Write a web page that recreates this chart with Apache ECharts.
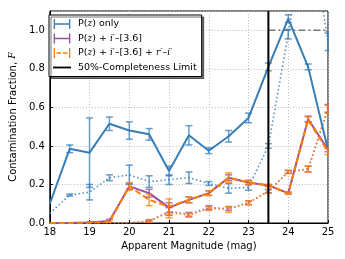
<!DOCTYPE html>
<html><head><meta charset="utf-8">
<script src="https://cdn.jsdelivr.net/npm/echarts@6/dist/echarts.min.js"></script>
<style>html,body{margin:0;padding:0;background:#fff}#c{width:345px;height:259px}</style>
</head><body><div id="c"></div>
<script>
const mags = [18, 18.5, 19, 19.5, 20, 20.5, 21, 21.5, 22, 22.5, 23, 23.5, 24, 24.5, 25];
const pzOnly     = [0.10, 0.385, 0.365, 0.515, 0.48, 0.46, 0.27, 0.455, 0.375, 0.45, 0.545, 0.81, 1.06, 0.81, 0.38];
const pzOnlyErr  = [0, 0.02, 0.18, 0.035, 0.045, 0.03, 0.025, 0.05, 0.015, 0.03, 0.025, 0.02, 0.02, 0.015, 0];
const pzOnlyDot  = [0.05, 0.145, 0.16, 0.235, 0.25, 0.215, 0.225, 0.235, 0.205, 0.18, 0.185, 0.40, 0.98, 1.6, 0.94];
const pzOnlyDotErr = [0, 0.005, 0.04, 0.015, 0.05, 0.03, 0.025, 0.03, 0.01, 0.025, 0.015, 0.012, 0.025, 0, 0.045];
const pzIrac     = [0, 0, 0.003, 0.01, 0.19, 0.155, 0.08, 0.12, 0.155, 0.235, 0.21, 0.195, 0.155, 0.54, 0.38];
const pzIracErr  = [0, 0, 0.003, 0.01, 0.015, 0.02, 0.025, 0.015, 0.012, 0.015, 0.01, 0.005, 0.005, 0.015, 0.01];
const pzIracDot  = [0, 0, 0, 0, 0, 0.01, 0.06, 0.045, 0.08, 0.075, 0.105, 0.165, 0.265, 0.28, 0.595];
const pzIracDotErr = [0, 0, 0, 0, 0, 0.005, 0.02, 0.01, 0.01, 0.01, 0.01, 0.008, 0.008, 0.015, 0.02];
const pzAll      = [0, 0, 0.002, 0.005, 0.19, 0.12, 0.085, 0.12, 0.155, 0.235, 0.21, 0.195, 0.155, 0.535, 0.37];
const pzAllErr   = [0, 0, 0.002, 0.005, 0.02, 0.03, 0.04, 0.015, 0.012, 0.025, 0.012, 0.005, 0.005, 0.015, 0.015];
const pzAllDot   = [0, 0, 0, 0, 0, 0.01, 0.055, 0.04, 0.075, 0.07, 0.105, 0.165, 0.265, 0.28, 0.59];
const pzAllDotErr = [0, 0, 0, 0, 0, 0.008, 0.028, 0.01, 0.01, 0.015, 0.01, 0.01, 0.008, 0.015, 0.02];
const limitMag = 23.5;
const limitY = [0, 1.1];
const unityY = 1.0;
const unityX = [23.5, 25];
const xTicks = [18, 19, 20, 21, 22, 23, 24, 25];
const yTicks = [0.0, 0.2, 0.4, 0.6, 0.8, 1.0];

const BLUE = '#377eb8', PURPLE = '#984ea3', ORANGE = '#ff7f00';
const names = ['P(z) only', 'P(z) + i\u2032\u2013[3.6]', 'P(z) + i\u2032\u2013[3.6] + r\u2032\u2013i\u2032', '50%-Completeness Limit'];

function pts(v) { return mags.map((m, i) => [m, v[i]]); }
function errs(v, e) { return mags.map((m, i) => [m, v[i] - e[i], v[i] + e[i]]).filter(d => d[2] - d[1] > 0); }

function errSeries(v, e, color, z) {
  return {
    type: 'custom', name: 'err' + z, z: z, silent: true,
    clip: true,
    data: errs(v, e),
    renderItem: function (params, api) {
      const x = api.value(0), lo = api.value(1), hi = api.value(2);
      const a = api.coord([x, lo]), b = api.coord([x, hi]);
      const hw = 3.5;
      const st = { stroke: color, lineWidth: 1.5, opacity: 0.75 };
      return { type: 'group', children: [
        { type: 'line', shape: { x1: a[0], y1: a[1], x2: b[0], y2: b[1] }, style: st },
        { type: 'line', shape: { x1: a[0] - hw, y1: a[1], x2: a[0] + hw, y2: a[1] }, style: st },
        { type: 'line', shape: { x1: b[0] - hw, y1: b[1], x2: b[0] + hw, y2: b[1] }, style: st }
      ]};
    }
  };
}
function lineSeries(name, v, color, type, width, z, opacity) {
  return {
    type: 'line', name: name, z: z, data: pts(v), showSymbol: false, symbol: 'none', clip: true,
    itemStyle: { color: color },
    lineStyle: { color: color, width: width, type: type, opacity: opacity == null ? 1 : opacity },
    animation: false, silent: true
  };
}

const chart = echarts.init(document.getElementById('c'), null, { renderer: 'canvas' });
const font = 'DejaVu Sans';
const hIcon = 'path://M0,0h1.6v5h16.8v-5h1.6v12h-1.6v-5h-16.8v5h-1.6z';
const dIcon = 'path://M0,0h1.6v12h-1.6z M3.4,5h5.4v2h-5.4z M11.2,5h5.4v2h-5.4z M18.4,0h1.6v12h-1.6z';
const lIcon = 'path://M0,5h20v2h-20z';
const rich = {
  t: { fontFamily: font, fontSize: 9.5, color: '#000' },
  i: { fontFamily: 'DejaVu Serif', fontStyle: 'italic', fontSize: 9, color: '#000' }
};
function legendFmt(n) {
  if (n === names[0]) return '{t|P(}{i|z}{t|) only}';
  if (n === names[1]) return '{t|P(}{i|z}{t|) + }{i|i\u2032}{t|\u2013[3.6]}';
  if (n === names[2]) return '{t|P(}{i|z}{t|) + }{i|i\u2032}{t|\u2013[3.6] + }{i|r\u2032}{t|\u2013}{i|i\u2032}';
  return '{t|' + n + '}';
}

chart.setOption({
  animation: false,
  grid: { left: 43, right: 17, top: 11, bottom: 36, show: true, borderColor: '#000', borderWidth: 1, backgroundColor: 'transparent' },
  xAxis: {
    type: 'value', min: 18, max: 25, interval: 1,
    name: 'Apparent Magnitude (mag)', nameLocation: 'middle', nameGap: 16,
    nameTextStyle: { fontFamily: font, fontSize: 10, color: '#000' },
    axisLine: { show: true, lineStyle: { color: '#000' } },
    axisTick: { show: true, inside: true, length: 3, lineStyle: { color: '#000' } },
    axisLabel: { fontFamily: font, fontSize: 10, color: '#000', margin: 4, formatter: v => xTicks.includes(v) ? String(v) : '' },
    splitLine: { show: true, lineStyle: { color: '#bbb', type: [1, 2], width: 1 } }
  },
  yAxis: {
    type: 'value', min: 0, max: 1.1, interval: 0.2,
    name: '{t|Contamination Fraction, }{i|F}', nameLocation: 'middle', nameGap: 27,
    nameTextStyle: { rich: { t: { fontFamily: font, fontSize: 10, color: '#000' }, i: { fontFamily: 'DejaVu Serif', fontStyle: 'italic', fontSize: 9.5, color: '#000' } } },
    axisLine: { show: true, lineStyle: { color: '#000' } },
    axisTick: { show: true, inside: true, length: 3, lineStyle: { color: '#000' } },
    axisLabel: { fontFamily: font, fontSize: 10, color: '#000', margin: 5, showMaxLabel: false,
      formatter: v => { const f = yTicks.find(t => Math.abs(t - v) < 1e-6); return f === undefined ? '' : f.toFixed(1); } },
    splitLine: { show: true, lineStyle: { color: '#bbb', type: [1, 2], width: 1 } }
  },
  legend: {
    left: 49, top: 15, orient: 'vertical', itemWidth: 18, itemHeight: 10, itemGap: 4.5,
    padding: [4, 5, 4, 4],
    backgroundColor: '#fff', borderColor: '#000', borderWidth: 1, borderRadius: 0,
    shadowColor: 'rgba(0,0,0,0.55)', shadowOffsetX: 2, shadowOffsetY: 2, shadowBlur: 0,
    data: [
      { name: names[0], icon: hIcon, itemStyle: { color: BLUE } },
      { name: names[1], icon: hIcon, itemStyle: { color: PURPLE } },
      { name: names[2], icon: dIcon, itemStyle: { color: ORANGE } },
      { name: names[3], icon: lIcon, itemStyle: { color: '#000' } }
    ],
    formatter: legendFmt,
    textStyle: { rich: rich, padding: [0, 0, 0, 2] },
    selectedMode: false
  },
  series: [
    lineSeries('dotBlue', pzOnlyDot, BLUE, [1.5, 2.5], 1.6, 2, 0.85),
    errSeries(pzOnlyDot, pzOnlyDotErr, BLUE, 3),
    lineSeries('dotPurple', pzIracDot, PURPLE, [1.5, 2.5], 1.6, 2, 0.85),
    errSeries(pzIracDot, pzIracDotErr, PURPLE, 3),
    lineSeries('dotOrange', pzAllDot, ORANGE, [1.5, 2.5], 1.6, 2, 0.85),
    errSeries(pzAllDot, pzAllDotErr, ORANGE, 3),
    {
      type: 'line', name: 'unity', z: 2, data: unityX.map(x => [x, unityY]), symbol: 'none', silent: true,
      lineStyle: { color: '#777', width: 1.3, type: [7, 3, 2, 3] }
    },
    lineSeries(names[0], pzOnly, BLUE, 'solid', 2, 5),
    errSeries(pzOnly, pzOnlyErr, BLUE, 6),
    lineSeries(names[1], pzIrac, PURPLE, 'solid', 2, 5),
    errSeries(pzIrac, pzIracErr, PURPLE, 6),
    lineSeries(names[2], pzAll, ORANGE, [6, 3], 2, 7),
    errSeries(pzAll, pzAllErr, ORANGE, 8),
    {
      type: 'line', name: names[3], z: 9, data: limitY.map(y => [limitMag, y]), symbol: 'none', silent: true,
      itemStyle: { color: '#000' }, lineStyle: { color: '#000', width: 2 }
    }
  ]
});
</script></body></html>
